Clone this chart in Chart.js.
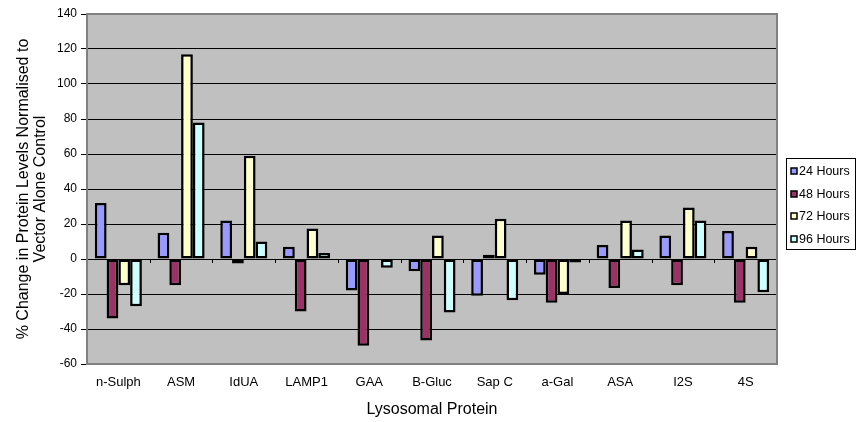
<!DOCTYPE html>
<html>
<head>
<meta charset="utf-8">
<title>Lysosomal Protein Levels</title>
<script src="https://cdn.jsdelivr.net/npm/chart.js@4.4.1/dist/chart.umd.min.js"></script>
<style>
  html, body { margin: 0; padding: 0; background: #ffffff; }
  #wrap { width: 857px; height: 422px; }
</style>
</head>
<body>
<div id="wrap"><canvas id="my-chart" width="857" height="422"></canvas></div>
<script>
'use strict';

// ******* DATA *******
let proteins = ['n-Sulph', 'ASM', 'IdUA', 'LAMP1', 'GAA', 'B-Gluc', 'Sap C', 'a-Gal', 'ASA', 'I2S', '4S'];
let seriesNames = ['24 Hours', '48 Hours', '72 Hours', '96 Hours'];
let hours24 = [32, 15, 22, 7, -18, -7, -21, -9, 8, 13.5, 16];
let hours48 = [-34, -15, -2.5, -30, -49.5, -46.5, 2.5, -25, -16.5, -15, -25];
let hours72 = [-15, 117, 59, 17.5, 0.3, 13.5, 23, -20, 22, 29.5, 7];
let hours96 = [-27, 78, 10, 3.5, -5, -30.5, -23.5, -2, 5.5, 22, -19];
let yTicks = [-60, -40, -20, 0, 20, 40, 60, 80, 100, 120, 140];

let seriesColors = ['#9999FF', '#993366', '#FFFFCC', '#CCFFFF'];
let fontFamily = '"Liberation Sans", Arial, sans-serif';

// ******* PLUGINS *******

// grey plot area behind the grid
let plotBackground = {
  id: 'plotBackground',
  beforeDraw(chart) {
    let { ctx, chartArea: a } = chart;
    ctx.save();
    ctx.fillStyle = '#C0C0C0';
    ctx.fillRect(a.left, a.top, a.right - a.left, a.bottom - a.top);
    ctx.restore();
  }
};

// frame round the plot + little category ticks on the zero line
let plotFrame = {
  id: 'plotFrame',
  afterDatasetsDraw(chart) {
    let { ctx, chartArea: a, scales } = chart;
    let zeroY = scales.y.getPixelForValue(0);
    ctx.save();
    ctx.strokeStyle = '#000000';
    ctx.lineWidth = 1;
    ctx.beginPath();
    for (let i = 0; i < proteins.length - 1; i++) {
      let x = Math.round((scales.x.getPixelForValue(i) + scales.x.getPixelForValue(i + 1)) / 2) + 0.5;
      ctx.moveTo(x, zeroY);
      ctx.lineTo(x, zeroY + 4);
    }
    ctx.stroke();

    ctx.strokeStyle = '#808080';
    ctx.lineWidth = 2;
    ctx.strokeRect(a.left, a.top, a.right - a.left, a.bottom - a.top);
    ctx.restore();
  }
};

// boxed legend at the right of the plot
let boxLegend = {
  id: 'boxLegend',
  afterDraw(chart) {
    let ctx = chart.ctx;
    let box = { x: 786.5, y: 158.5, w: 69, h: 91 };
    ctx.save();
    ctx.fillStyle = '#ffffff';
    ctx.fillRect(box.x, box.y, box.w, box.h);
    ctx.strokeStyle = '#000000';
    ctx.lineWidth = 1;
    ctx.strokeRect(box.x, box.y, box.w, box.h);

    ctx.font = '12.5px ' + fontFamily;
    ctx.textBaseline = 'middle';
    ctx.textAlign = 'left';
    chart.data.datasets.forEach((ds, i) => {
      let cy = 171 + i * 22.7;
      ctx.fillStyle = ds.backgroundColor;
      ctx.fillRect(791, Math.round(cy) - 3, 6, 6);
      ctx.strokeStyle = '#000000';
      ctx.lineWidth = 1.5;
      ctx.strokeRect(791, Math.round(cy) - 3, 6, 6);
      ctx.fillStyle = '#000000';
      ctx.fillText(ds.label, 799, cy + 0.5);
    });
    ctx.restore();
  }
};

// ******* CHART *******
let canvasElem = document.getElementById('my-chart').getContext('2d');

let seriesData = [hours24, hours48, hours72, hours96];
let datasets = [];
for (let i = 0; i < seriesNames.length; i++) {
  datasets.push({
    label: seriesNames[i],
    data: seriesData[i],
    backgroundColor: seriesColors[i],
    borderColor: '#000000',
    borderWidth: 2.5,
    borderSkipped: false,
    categoryPercentage: 0.75,
    barPercentage: 1.0
  });
}

let myChartObj = {
  type: 'bar',
  data: {
    labels: proteins,
    datasets: datasets
  },
  options: {
    responsive: false,
    animation: false,
    devicePixelRatio: 1,
    layout: {
      padding: { left: 0, top: 14, right: 80, bottom: 0 }
    },
    plugins: {
      legend: { display: false },
      tooltip: { enabled: false }
    },
    scales: {
      x: {
        grid: { display: false, drawTicks: false },
        border: { display: false },
        ticks: {
          color: '#000000',
          font: { family: fontFamily, size: 13 },
          padding: 11,
          maxRotation: 0,
          autoSkip: false
        },
        title: {
          display: true,
          text: 'Lysosomal Protein',
          color: '#000000',
          font: { family: fontFamily, size: 16 },
          padding: { top: 0, bottom: 3 }
        },
        afterFit(scale) {
          scale.height = 58;
        }
      },
      y: {
        min: -60,
        max: 140,
        afterBuildTicks(scale) {
          scale.ticks = yTicks.map(v => ({ value: v }));
        },
        grid: {
          color: '#000000',
          lineWidth: 1,
          tickLength: 6
        },
        border: { display: false },
        ticks: {
          color: '#000000',
          font: { family: fontFamily, size: 12 },
          padding: 4
        },
        title: {
          display: true,
          text: ['% Change in Protein Levels Normalised to', 'Vector Alone Control'],
          color: '#000000',
          font: { family: fontFamily, size: 16, lineHeight: 1.05 },
          padding: { top: 15, bottom: 0 }
        },
        afterFit(scale) {
          scale.width = 87;
        }
      }
    }
  },
  plugins: [plotBackground, plotFrame, boxLegend]
};

new Chart(canvasElem, myChartObj);
</script>
</body>
</html>
